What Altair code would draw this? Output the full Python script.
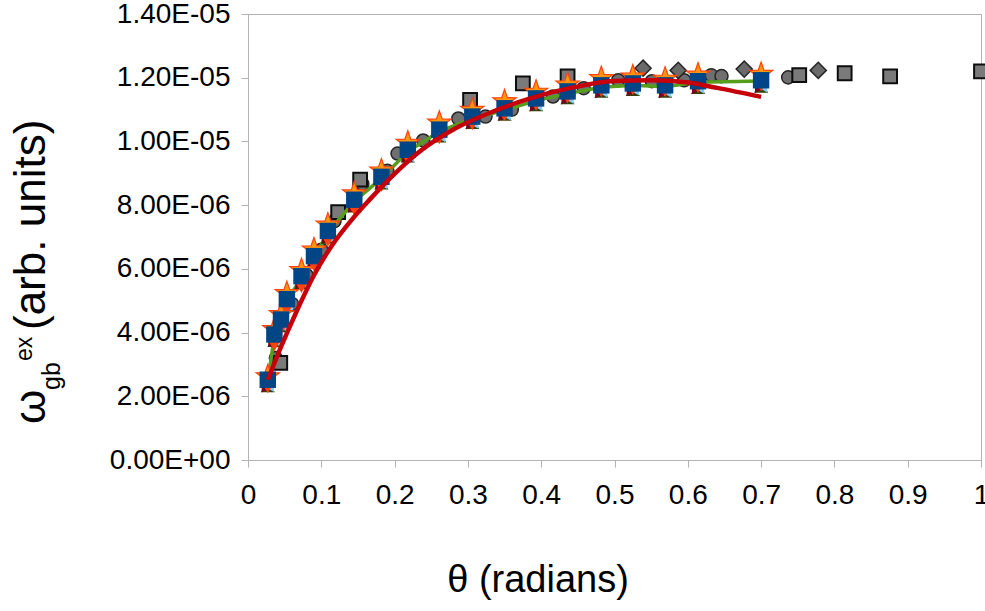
import altair as alt
import pandas as pd

# ---- data (y values in units of 1e-6) ----
theta = [0.027, 0.036, 0.045, 0.053, 0.073, 0.090, 0.109, 0.145, 0.182, 0.218,
         0.261, 0.306, 0.350, 0.393, 0.436, 0.482, 0.525, 0.569, 0.614, 0.700]
square_y = [2.52, 3.94, 4.41, 5.05, 5.77, 6.40, 7.19, 8.17, 8.89, 9.74,
            10.37, 10.78, 11.04, 11.35, 11.57, 11.76, 11.82, 11.76, 11.89, 11.92]
star_y = [2.62, 4.10, 4.57, 5.23, 5.95, 6.60, 7.38, 8.36, 9.08, 9.95,
          10.58, 10.98, 11.25, 11.55, 11.78, 11.98, 12.03, 11.96, 12.09, 12.11]
tri_down_y = [2.30, 3.62, 4.12, 4.75, 5.45, 6.12, 6.90, 7.88, 8.62, 9.48,
              10.12, 10.56, 10.84, 11.17, 11.40, 11.60, 11.66, 11.60, 11.73, 11.78]
tri_left_y = [2.36, 3.78, 4.25, 4.88, 5.60, 6.24, 7.02, 8.00, 8.72, 9.57,
              10.20, 10.62, 10.88, 11.18, 11.40, 11.60, 11.66, 11.60, 11.72, 11.76]
tri_right_y = [2.34, 3.76, 4.22, 4.86, 5.58, 6.21, 7.00, 7.98, 8.70, 9.55,
               10.18, 10.60, 10.86, 11.16, 11.38, 11.58, 11.64, 11.58, 11.70, 11.74]
tri_up_y = [2.32, 3.74, 4.20, 4.84, 5.56, 6.20, 6.98, 7.96, 8.68, 9.53,
            10.16, 10.58, 10.84, 11.14, 11.36, 11.56, 11.62, 11.56, 11.68, 11.72]
green_y = [2.48, 3.90, 4.36, 5.00, 5.72, 6.35, 7.14, 8.12, 8.84, 9.68,
           10.31, 10.72, 10.98, 11.28, 11.50, 11.70, 11.76, 11.72, 11.86, 11.90]

sphere_x = [0.038, 0.060, 0.080, 0.100, 0.118, 0.156, 0.190, 0.204, 0.239, 0.287,
            0.324, 0.360, 0.416, 0.458, 0.505, 0.551, 0.595, 0.632, 0.646, 0.737]
sphere_y = [3.20, 4.90, 5.80, 6.60, 7.50, 8.67, 9.08, 9.62, 10.03, 10.72,
            10.78, 11.00, 11.41, 11.67, 11.92, 11.89, 11.92, 12.08, 12.05, 12.01]

cube_x = [0.044, 0.123, 0.153, 0.303, 0.375, 0.436, 0.752, 0.814, 0.876, 1.0]
cube_y = [3.05, 7.78, 8.80, 11.30, 11.82, 12.04, 12.08, 12.14, 12.04, 12.20]

diamond_x = [0.539, 0.587, 0.677, 0.778]
diamond_y = [12.30, 12.23, 12.27, 12.23]

fit_x = [0.027, 0.045, 0.065, 0.090, 0.115, 0.140, 0.165, 0.194, 0.235, 0.282,
         0.330, 0.385, 0.440, 0.500, 0.550, 0.600, 0.640, 0.700]
fit_y = [2.52, 3.55, 4.60, 5.80, 6.75, 7.50, 8.15, 8.85, 9.70, 10.40,
         10.90, 11.35, 11.68, 11.90, 11.92, 11.85, 11.68, 11.40]

x_ticks = [0, 0.1, 0.2, 0.3, 0.4, 0.5, 0.6, 0.7, 0.8, 0.9, 1]
y_ticks = [0, 2, 4, 6, 8, 10, 12, 14]

FONT = "Liberation Sans"
GRAY = "#b3b3b3"
STAR = ("M0,-1L0.235,-0.324L0.951,-0.309L0.380,0.124L0.588,0.809L0,0.4"
        "L-0.588,0.809L-0.380,0.124L-0.951,-0.309L-0.235,-0.324Z")

x_axis = alt.Axis(values=x_ticks, format="~g", title=None, grid=False, orient="bottom",
                  labelFlush=False, labelOverlap=False, labelPadding=14)
y_axis = alt.Axis(values=y_ticks, title=None, grid=False, labelPadding=11, orient="left",
                  labelExpr="datum.value == 0 ? '0.00E+00' : "
                            "replace(format(datum.value * 1e-6, '.2e'), 'e-', 'E-0')")
xs = alt.Scale(domain=[0, 1], nice=False, zero=False)
ys = alt.Scale(domain=[0, 14], nice=False, zero=False)


def enc():
    return dict(x=alt.X("x:Q", scale=xs, axis=x_axis),
                y=alt.Y("y:Q", scale=ys, axis=y_axis))


def df(xv, yv):
    return pd.DataFrame({"x": xv, "y": yv})


def pts(xv, yv, shape, fill, size, stroke=None, sw=1.0):
    kw = dict(shape=shape, filled=True, fill=fill, size=size, opacity=1)
    if stroke:
        kw.update(stroke=stroke, strokeWidth=sw)
    else:
        kw.update(strokeWidth=0)
    return alt.Chart(df(xv, yv)).mark_point(**kw).encode(**enc())


layers = [
    pts(sphere_x, sphere_y, "circle", "#6f6f6f", 170, "#262626", 1.5),
    pts(cube_x, cube_y, "square", "#7a7a7a", 190, "#0d0d0d", 2),
    pts(diamond_x, diamond_y, "diamond", "#6a6a6a", 260, "#262626", 1.5),
    alt.Chart(df(theta, green_y)).mark_line(
        color="#579d1c", strokeWidth=3.5).encode(**enc()),
    pts(theta, tri_up_y, "triangle-up", "#314004", 200),
    pts(theta, tri_right_y, "triangle-right", "#7e0021", 200),
    pts(theta, tri_left_y, "triangle-left", "#83caff", 200),
    pts(theta, tri_down_y, "triangle-down", "#ff420e", 230),
    pts(theta, star_y, STAR, "#ff950e", 600, "#ff420e", 1.2),
    pts(theta, square_y, "square", "#004586", 270),
    alt.Chart(df(fit_x, fit_y)).mark_line(
        color="#c5000b", strokeWidth=4.5, interpolate="monotone").encode(**enc()),
]


def label(txt, px, py, size, angle=0, align="left"):
    kw = dict(font=FONT, fontSize=size, color="black", align=align,
              baseline="alphabetic")
    if angle:
        kw["angle"] = angle
    return alt.Chart(pd.DataFrame({"t": [txt]})).mark_text(**kw).encode(
        text="t:N", x=alt.value(px), y=alt.value(py))


layers += [
    label("θ (radians)", 290, 578, 38, align="center"),
    label("ω", -203, 410, 44, angle=270),
    label("gb", -188, 376, 25, angle=270),
    label("ex", -216, 347, 23, angle=270),
    label("(arb. units)", -203, 316, 44, angle=270),
]

chart = alt.layer(*layers).properties(
    width=733, height=446,
    padding={"left": 248, "top": 14, "right": 4, "bottom": 151},
    autosize=alt.AutoSizeParams(type="none"),
).configure_view(
    stroke=GRAY, strokeWidth=1
).configure_axis(
    domainColor=GRAY, tickColor=GRAY, tickSize=7, domainWidth=1, tickWidth=1,
    labelFont=FONT, labelFontSize=28, labelColor="black",
)

chart.save("out.html", embed_options={"renderer": "svg", "actions": False})
